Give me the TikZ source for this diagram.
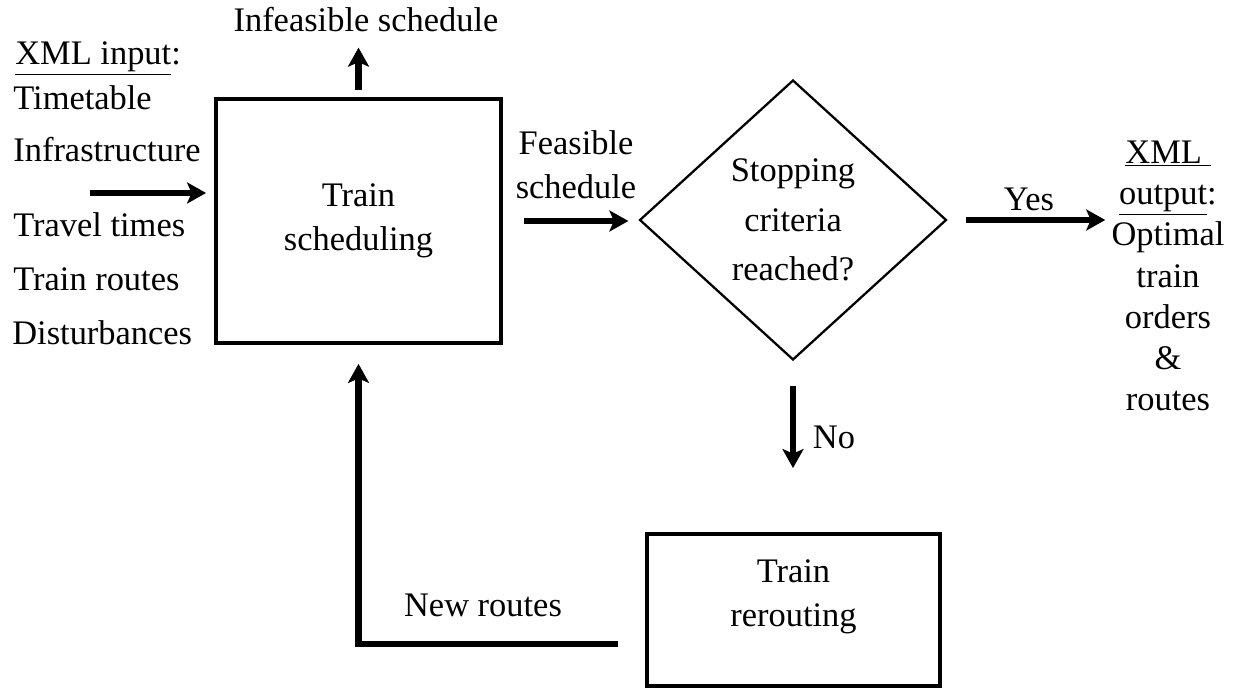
\documentclass[tikz,border=0pt]{standalone}
\usepackage{fontspec}
\setmainfont{Liberation Serif}
\usetikzlibrary{shapes.geometric,arrows.meta}

\tikzset{
  block/.style={draw, line width=2.2pt, minimum width=5.7cm, minimum height=4.88cm, align=center},
  decision/.style={diamond, draw, line width=1.3pt, minimum width=6.14cm, minimum height=5.6cm, align=center, inner sep=0pt},
  flow/.style={line width=3.9pt, -{Stealth[length=0.38cm,width=0.42cm,inset=0.09cm]}},
  lbl/.style={align=center, inner sep=0pt},
  inlbl/.style={anchor=base west, inner sep=0pt},
}

\begin{document}
\begin{tikzpicture}[x=0.02cm, y=-0.02cm, font=\fontsize{19.6}{25}\selectfont]
\useasboundingbox (0,0) rectangle (1246,688);

% Main blocks
\node[block] (sched) at (358.5,221) {Train\\scheduling};
\node[decision, font=\fontsize{19.6}{28}\selectfont] (stop) at (793,220) {Stopping\\criteria\\reached?};
\node[block, minimum width=5.86cm, minimum height=3.04cm] (reroute) at (793.5,610) {};
\node[lbl] (rrtext) at (793.5,597) {Train\\rerouting};

% XML input
\node[inlbl] (xmlin) at (15,65) {\underline{XML input}:};
\node[inlbl] (ttab) at (13,110) {Timetable};
\node[inlbl] (infra) at (13,162) {Infrastructure};
\node[inlbl] (travel) at (13,237) {Travel times};
\node[inlbl] (routes) at (13,291) {Train routes};
\node[inlbl] (dist) at (12,345) {Disturbances};
\coordinate (inp) at (90,193);
\draw[flow, shorten >=0.16cm] (inp) -- (inp -| sched.west);

% Infeasible branch
\node[lbl] (infeas) at (366,20) {Infeasible schedule};
\draw[flow, shorten <=0.14cm, shorten >=0.3cm] (sched.north) -- (sched.north |- infeas.south);

% Feasible branch
\node[lbl] (feas) at (576,165) {Feasible\\schedule};
\draw[flow, shorten <=0.42cm, shorten >=0.2cm] (sched.east) -- (sched.east -| stop.west);

% XML output
\node[lbl, font=\fontsize{19.6}{23.5}\selectfont] (out) at (1168,276) {\underline{XML\ }\\\underline{output}:\\Optimal\\train\\orders\\\&\\routes};
\node[lbl] (yes) at (1029,199) {Yes};
\draw[flow, shorten <=0.36cm, shorten >=0.12cm] (stop.east) -- (stop.east -| out.west);

% Rerouting loop
\node[lbl] (no) at (834,437) {No};
\draw[flow, shorten <=0.5cm, shorten >=1.28cm] (stop.south) -- (stop.south |- reroute.north);
\node[lbl] (newr) at (483,605) {New routes};
\draw[flow, shorten <=0.54cm, shorten >=0.38cm] ([yshift=-0.68cm]reroute.west) -| (sched.south);
\end{tikzpicture}
\end{document}
